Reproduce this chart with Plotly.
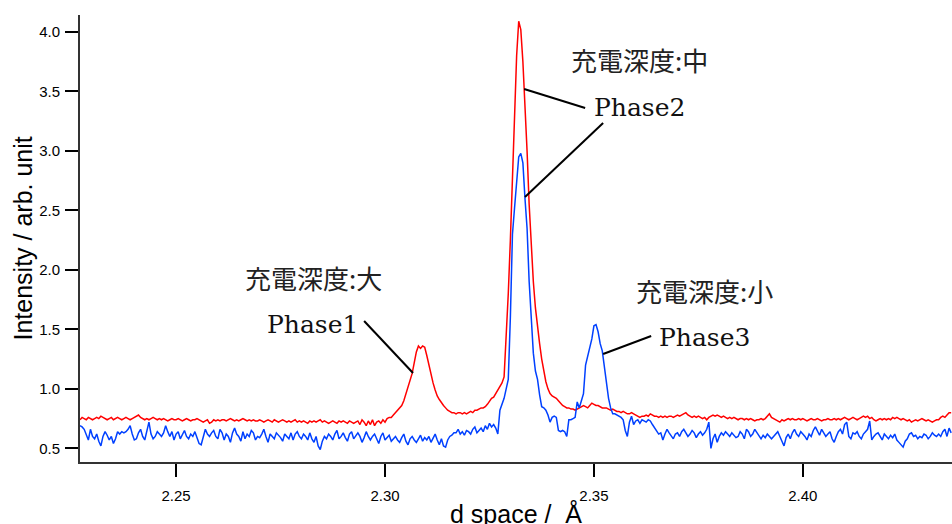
import plotly.graph_objects as go

# d-spacing sampling grid (Å)
d_start = 2.227
d_step = 0.0005

red_intensity = [
    0.74,0.76,0.75,0.74,0.76,0.75,0.74,0.75,0.76,0.75,0.77,0.76,0.75,0.74,0.75,0.76,0.74,0.75,0.76,0.75,
    0.74,0.75,0.76,0.75,0.74,0.75,0.76,0.77,0.78,0.76,0.75,0.74,0.75,0.74,0.75,0.76,0.75,0.74,0.75,0.74,
    0.75,0.74,0.73,0.74,0.75,0.74,0.74,0.75,0.74,0.73,0.74,0.75,0.74,0.73,0.74,0.74,0.75,0.74,0.73,0.72,
    0.73,0.74,0.71,0.72,0.74,0.73,0.74,0.73,0.74,0.74,0.73,0.74,0.75,0.74,0.73,0.74,0.73,0.74,0.75,0.74,
    0.73,0.74,0.73,0.74,0.73,0.73,0.74,0.73,0.72,0.73,0.74,0.73,0.72,0.74,0.73,0.72,0.73,0.74,0.73,0.72,
    0.73,0.72,0.73,0.74,0.72,0.73,0.72,0.73,0.72,0.71,0.73,0.72,0.73,0.72,0.73,0.74,0.72,0.73,0.72,0.71,
    0.72,0.73,0.72,0.71,0.73,0.72,0.73,0.72,0.71,0.73,0.72,0.71,0.72,0.73,0.70,0.74,0.72,0.69,0.73,0.70,
    0.74,0.69,0.72,0.73,0.71,0.74,0.72,0.75,0.76,0.76,0.78,0.80,0.82,0.84,0.86,0.90,0.96,1.02,1.07,1.13,
    1.22,1.31,1.36,1.34,1.36,1.35,1.28,1.20,1.12,1.05,0.99,0.94,0.91,0.88,0.86,0.84,0.82,0.81,0.80,0.80,
    0.79,0.80,0.80,0.79,0.80,0.79,0.80,0.81,0.80,0.82,0.82,0.83,0.84,0.84,0.85,0.87,0.90,0.92,0.93,0.96,
    0.99,1.02,1.05,1.10,1.40,1.80,2.25,2.80,3.30,3.80,4.09,4.02,3.75,3.42,3.00,2.55,2.20,1.90,1.68,1.50,
    1.38,1.25,1.15,1.06,1.00,0.96,0.94,0.93,0.92,0.90,0.88,0.86,0.85,0.84,0.84,0.83,0.83,0.82,0.83,0.84,
    0.85,0.86,0.85,0.84,0.86,0.88,0.87,0.86,0.86,0.85,0.84,0.84,0.84,0.83,0.82,0.83,0.82,0.81,0.81,0.80,
    0.81,0.80,0.79,0.79,0.80,0.79,0.78,0.77,0.76,0.77,0.77,0.78,0.77,0.79,0.78,0.77,0.77,0.76,0.77,0.76,
    0.77,0.76,0.77,0.77,0.76,0.77,0.78,0.77,0.78,0.79,0.80,0.78,0.77,0.76,0.77,0.76,0.77,0.76,0.75,0.76,
    0.74,0.76,0.77,0.78,0.77,0.78,0.77,0.76,0.77,0.76,0.75,0.76,0.75,0.76,0.75,0.74,0.75,0.75,0.74,0.75,
    0.74,0.75,0.74,0.73,0.74,0.74,0.75,0.74,0.75,0.77,0.79,0.76,0.75,0.74,0.73,0.72,0.74,0.73,0.74,0.75,
    0.74,0.75,0.74,0.74,0.75,0.74,0.75,0.74,0.73,0.74,0.75,0.74,0.74,0.75,0.74,0.73,0.74,0.74,0.75,0.74,
    0.74,0.75,0.74,0.75,0.74,0.75,0.76,0.75,0.74,0.75,0.76,0.75,0.74,0.75,0.76,0.77,0.76,0.77,0.75,0.76,
    0.74,0.73,0.74,0.75,0.74,0.75,0.74,0.75,0.74,0.76,0.75,0.76,0.75,0.74,0.75,0.74,0.73,0.74,0.72,0.73,
    0.74,0.73,0.74,0.75,0.74,0.73,0.74,0.73,0.72,0.73,0.74,0.74,0.76,0.77,0.76,0.78,0.80,0.80,
]

blue_intensity = [
    0.69,0.68,0.66,0.62,0.57,0.66,0.60,0.58,0.62,0.56,0.52,0.60,0.64,0.61,0.57,0.60,0.54,0.58,0.64,0.62,
    0.64,0.63,0.64,0.66,0.69,0.62,0.57,0.58,0.63,0.66,0.60,0.57,0.64,0.72,0.62,0.58,0.60,0.64,0.62,0.60,
    0.63,0.69,0.64,0.60,0.64,0.57,0.62,0.64,0.58,0.61,0.65,0.60,0.58,0.62,0.60,0.64,0.58,0.54,0.53,0.60,
    0.66,0.62,0.60,0.63,0.65,0.60,0.58,0.66,0.63,0.57,0.62,0.60,0.55,0.63,0.67,0.62,0.60,0.56,0.64,0.58,
    0.62,0.60,0.65,0.63,0.57,0.60,0.59,0.62,0.66,0.60,0.55,0.62,0.60,0.58,0.63,0.61,0.59,0.56,0.62,0.60,
    0.58,0.63,0.57,0.62,0.64,0.60,0.58,0.62,0.60,0.57,0.63,0.58,0.55,0.60,0.52,0.49,0.56,0.60,0.58,0.62,
    0.60,0.57,0.62,0.65,0.58,0.60,0.63,0.59,0.56,0.62,0.64,0.58,0.61,0.63,0.60,0.55,0.59,0.64,0.60,0.57,
    0.60,0.62,0.58,0.54,0.60,0.63,0.57,0.59,0.61,0.56,0.58,0.60,0.57,0.55,0.59,0.62,0.56,0.53,0.58,0.60,
    0.57,0.55,0.58,0.61,0.56,0.59,0.57,0.60,0.55,0.58,0.62,0.57,0.53,0.58,0.52,0.51,0.57,0.60,0.61,0.63,
    0.63,0.66,0.62,0.64,0.61,0.65,0.64,0.62,0.66,0.68,0.63,0.65,0.67,0.64,0.69,0.66,0.71,0.68,0.70,0.67,
    0.62,0.82,0.87,0.92,1.00,1.08,1.60,2.30,2.52,2.72,2.95,2.98,2.90,2.60,2.35,1.90,1.55,1.30,1.15,1.08,
    0.95,0.85,0.84,0.82,0.78,0.72,0.76,0.77,0.76,0.65,0.64,0.65,0.64,0.60,0.74,0.74,0.75,0.76,0.89,0.84,
    0.90,0.96,1.20,1.28,1.34,1.42,1.53,1.54,1.48,1.38,1.32,1.18,1.05,0.92,0.84,0.79,0.79,0.78,0.77,0.76,
    0.74,0.65,0.60,0.72,0.77,0.70,0.73,0.74,0.71,0.74,0.73,0.72,0.74,0.73,0.70,0.67,0.65,0.62,0.63,0.57,
    0.62,0.66,0.63,0.60,0.58,0.62,0.63,0.60,0.64,0.66,0.63,0.60,0.62,0.65,0.63,0.59,0.62,0.64,0.61,0.63,
    0.66,0.72,0.50,0.58,0.62,0.55,0.60,0.63,0.61,0.64,0.62,0.60,0.63,0.61,0.59,0.60,0.64,0.62,0.58,0.66,
    0.64,0.60,0.62,0.66,0.63,0.60,0.58,0.61,0.59,0.62,0.60,0.58,0.60,0.62,0.64,0.60,0.56,0.52,0.59,0.62,
    0.58,0.63,0.66,0.62,0.60,0.64,0.62,0.60,0.57,0.62,0.60,0.65,0.68,0.64,0.61,0.66,0.63,0.60,0.62,0.64,
    0.58,0.55,0.60,0.64,0.66,0.62,0.70,0.72,0.60,0.58,0.63,0.62,0.64,0.60,0.58,0.62,0.64,0.66,0.73,0.57,
    0.60,0.62,0.63,0.60,0.57,0.62,0.60,0.58,0.61,0.59,0.62,0.57,0.55,0.53,0.51,0.56,0.58,0.62,0.63,0.60,
    0.61,0.58,0.60,0.59,0.62,0.61,0.58,0.60,0.63,0.61,0.60,0.62,0.60,0.64,0.66,0.60,0.67,0.63,
]

d_space = [round(d_start + d_step * i, 4) for i in range(len(red_intensity))]

x_ticks = [2.25, 2.30, 2.35, 2.40]
y_ticks = [0.5, 1.0, 1.5, 2.0, 2.5, 3.0, 3.5, 4.0]

x_title = "d space /\u00a0 Å"
y_title = "Intensity / arb. unit"
depth_labels = ["充電深度:大", "充電深度:中", "充電深度:小"]
phase_labels = ["Phase1", "Phase2", "Phase3"]

fig = go.Figure()
fig.add_trace(go.Scatter(x=d_space, y=red_intensity, mode="lines",
                         line=dict(color="#ff0000", width=1.5), showlegend=False))
fig.add_trace(go.Scatter(x=d_space, y=blue_intensity, mode="lines",
                         line=dict(color="#0040ff", width=1.5), showlegend=False))

# text labels (data coordinates)
jp_font = dict(family="Noto Sans CJK JP", size=26, color="#222")
ph_font = dict(family="DejaVu Serif", size=25, color="#111")
label_pos = [
    (depth_labels[0], 2.2828, 1.94, jp_font),
    (phase_labels[0], 2.2826, 1.537, ph_font),
    (depth_labels[1], 2.3609, 3.765, jp_font),
    (phase_labels[1], 2.3609, 3.369, ph_font),
    (depth_labels[2], 2.3765, 1.831, jp_font),
    (phase_labels[2], 2.3765, 1.428, ph_font),
]
for txt, xx, yy, f in label_pos:
    fig.add_annotation(x=xx, y=yy, xref="x", yref="y", text=txt, showarrow=False,
                       xanchor="center", yanchor="middle", font=f)

leaders = [
    (2.2950, 1.570, 2.3067, 1.133),
    (2.3333, 3.521, 2.3479, 3.361),
    (2.3522, 3.235, 2.3335, 2.613),
    (2.3637, 1.444, 2.3522, 1.293),
]
for x0, y0, x1, y1 in leaders:
    fig.add_shape(type="line", x0=x0, y0=y0, x1=x1, y1=y1, xref="x", yref="y",
                  line=dict(color="black", width=2))

# axis titles as annotations for exact placement
fig.add_annotation(x=0.5, y=-0.1155, xref="paper", yref="paper", text=x_title,
                   showarrow=False, xanchor="center", yanchor="middle",
                   font=dict(size=25, family="Liberation Sans", color="black"))
fig.add_annotation(x=-0.0665, y=0.5, xref="paper", yref="paper", text=y_title,
                   showarrow=False, xanchor="center", yanchor="middle", textangle=-90,
                   font=dict(size=25, family="Liberation Sans", color="black"))

fig.update_layout(
    width=952, height=524,
    margin=dict(l=80, r=0, t=15, b=62, autoexpand=False),
    paper_bgcolor="white", plot_bgcolor="white",
    font=dict(family="Liberation Sans", color="black"),
)
fig.update_xaxes(
    range=[2.227, 2.4357], tickvals=x_ticks, ticktext=[f"{v:.2f}" for v in x_ticks],
    ticks="outside", ticklen=13, tickwidth=1.5, tickcolor="black",
    showline=True, linecolor="#333", linewidth=2, showgrid=False, zeroline=False,
    tickfont=dict(size=15, family="Liberation Sans"), ticklabelstandoff=6,
    automargin=False,
)
fig.update_yaxes(
    range=[0.385, 4.143], tickvals=y_ticks, ticktext=[f"{v:.1f}" for v in y_ticks],
    ticks="outside", ticklen=13, tickwidth=1.5, tickcolor="black",
    showline=True, linecolor="#333", linewidth=2, showgrid=False, zeroline=False,
    tickfont=dict(size=15, family="Liberation Sans"), ticklabelstandoff=2,
    automargin=False,
)

fig.write_html("out.html", config={"displayModeBar": False},
               post_script="document.body.style.margin='0px';document.body.style.overflow='hidden';")
